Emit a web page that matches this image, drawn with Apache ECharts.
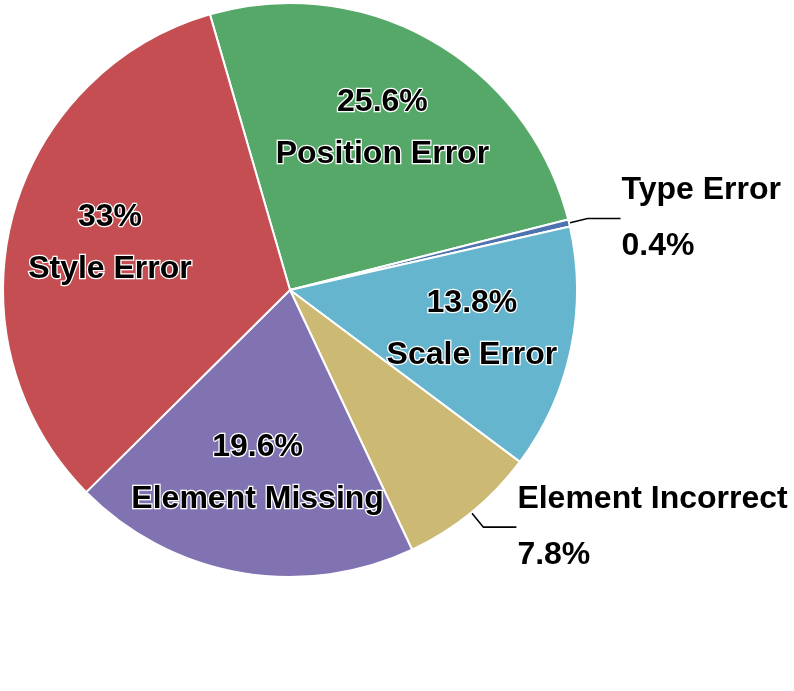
<!DOCTYPE html>
<html>
<head>
<meta charset="utf-8">
<script src="https://cdn.jsdelivr.net/npm/echarts@6/dist/echarts.min.js"></script>
<style>
  html, body { margin: 0; padding: 0; background: #fff; }
  #chart { width: 794px; height: 691px; }
</style>
</head>
<body>
<div id="chart"></div>
<script>
// error categories, in clockwise order starting from the top
const categories = ['Position Error', 'Type Error', 'Scale Error', 'Element Incorrect', 'Element Missing', 'Style Error'];
const percents = [25.6, 0.4, 13.8, 7.8, 19.6, 33];
// slices whose label sits outside with a leader line
const outsideLabels = ['Type Error', 'Element Incorrect'];

const palette = {
  'Position Error': '#55A868',
  'Type Error': '#4C72B0',
  'Scale Error': '#64B5CD',
  'Element Incorrect': '#CCB974',
  'Element Missing': '#8172B2',
  'Style Error': '#C44E52'
};

const FONT = '"Liberation Sans", Arial, Helvetica, sans-serif';
const CENTER = [290, 290];
const START = 106.2;

const chart = echarts.init(document.getElementById('chart'));

// main pie: slices plus the two outside labels
const mainData = categories.map((name, i) => {
  const outside = outsideLabels.includes(name);
  return {
    name,
    value: percents[i],
    itemStyle: { color: palette[name] },
    label: { show: outside },
    labelLine: { show: outside }
  };
});

// transparent ring used only to place the inside labels a bit further out
const innerLabelData = categories.map((name, i) => ({
  name,
  value: percents[i],
  label: { show: !outsideLabels.includes(name) }
}));

chart.setOption({
  backgroundColor: '#fff',
  animation: false,
  series: [
    {
      type: 'pie',
      center: CENTER,
      radius: [0, 287],
      startAngle: START,
      clockwise: true,
      avoidLabelOverlap: false,
      itemStyle: { borderColor: '#fff', borderWidth: 2 },
      emphasis: { disabled: true },
      label: {
        position: 'outside',
        formatter: '{b}\n{c}%',
        color: '#000',
        fontFamily: FONT,
        fontWeight: 'bold',
        fontSize: 32,
        lineHeight: 56,
        align: 'left',
        distanceToLabelLine: 1,
        bleedMargin: 0,
        overflow: 'none'
      },
      labelLine: {
        length: 19,
        length2: 33,
        smooth: false,
        lineStyle: { color: '#000', width: 1.6 }
      },
      data: mainData
    },
    {
      type: 'pie',
      center: CENTER,
      radius: [79, 287],
      startAngle: START,
      clockwise: true,
      silent: true,
      avoidLabelOverlap: false,
      itemStyle: { color: 'rgba(0,0,0,0)' },
      emphasis: { disabled: true },
      labelLine: { show: false },
      label: {
        position: 'inside',
        formatter: '{c}%\n{b}',
        color: '#000',
        fontFamily: FONT,
        fontWeight: 'bold',
        fontSize: 32,
        lineHeight: 52,
        textBorderColor: '#fff',
        textBorderWidth: 2.5
      },
      data: innerLabelData
    }
  ]
});
</script>
</body>
</html>
